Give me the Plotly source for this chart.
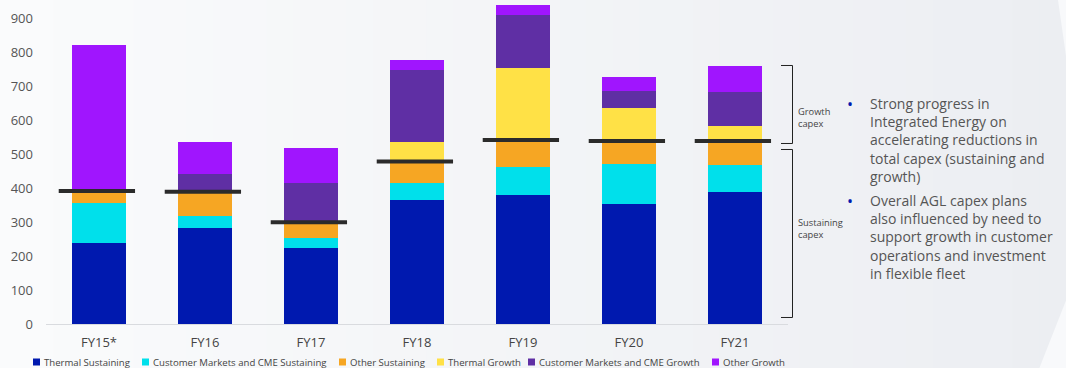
import plotly.graph_objects as go

# ---------------- data ----------------
categories = ["FY15*", "FY16", "FY17", "FY18", "FY19", "FY20", "FY21"]
thermal_sustaining = [239, 283, 224, 365, 379, 353, 387]
cme_sustaining = [118, 36, 30, 50, 83, 117, 82]
other_sustaining = [34, 70, 45, 63, 79, 68, 69]
thermal_growth = [0, 0, 0, 56, 212, 98, 43]
cme_growth = [0, 51, 116, 212, 157, 48, 100]
other_growth = [430, 95, 103, 30, 27, 43, 78]
sustaining_total = [391, 389, 299, 478, 541, 538, 538]
y_ticks = [0, 100, 200, 300, 400, 500, 600, 700, 800, 900]

series_names = ["Thermal Sustaining", "Customer Markets and CME Sustaining", "Other Sustaining",
                "Thermal Growth", "Customer Markets and CME Growth", "Other Growth"]
series_values = [thermal_sustaining, cme_sustaining, other_sustaining,
                 thermal_growth, cme_growth, other_growth]
series_colors = ["#0019AF", "#00E0EB", "#F6A623", "#FFE146", "#5F2FA4", "#A015FE"]

bullet_1 = ["Strong progress in", "Integrated Energy on", "accelerating reductions in",
            "total capex (sustaining and", "growth)"]
bullet_2 = ["Overall AGL capex plans", "also influenced by need to", "support growth in customer",
            "operations and investment", "in flexible fleet"]

# ---------------- layout helpers ----------------
W, H = 1066, 368
L, R, T, B = 46, 788, 1, 324


def fx(px):
    return (px - L) / (R - L)


def fy(py):
    return (B - py) / (B - T)


FONT = "Open Sans"
x_idx = list(range(len(categories)))

fig = go.Figure()
for name, vals, col in zip(series_names, series_values, series_colors):
    fig.add_trace(go.Bar(
        x=x_idx, y=vals, name=name, marker=dict(color=col, line=dict(width=0)),
        width=0.51, showlegend=False,
        hovertemplate="%{text}<br>" + name + ": %{y}<extra></extra>", text=categories,
        textposition="none",
    ))

# sustaining capex marker lines
lx, ly = [], []
for i, v in zip(x_idx, sustaining_total):
    lx += [i - 0.38, i + 0.34, None]
    ly += [v, v, None]
fig.add_trace(go.Scatter(x=lx, y=ly, mode="lines", line=dict(color="#2B2B2B", width=4),
                         showlegend=False, hoverinfo="skip"))

shapes = []
# background gradient bands
c0 = (250, 251, 252)
c1 = (236, 238, 242)
n = 40
for k in range(n):
    a = W * k / n
    b = W * (k + 1) / n + 1
    t = k / (n - 1)
    c = tuple(round(c0[j] + (c1[j] - c0[j]) * t) for j in range(3))
    shapes.append(dict(type="rect", xref="paper", yref="paper", x0=fx(a), x1=fx(b),
                       y0=fy(H), y1=fy(0), fillcolor="rgb(%d,%d,%d)" % c,
                       line=dict(width=0), layer="below"))
# chevron corners
light = "#F8F9FB"
shapes.append(dict(type="path", xref="paper", yref="paper", layer="below",
                   path="M %f,%f L %f,%f L %f,%f Z" % (fx(1058), fy(0), fx(1067), fy(0), fx(1067), fy(63)),
                   fillcolor=light, line=dict(width=0)))
shapes.append(dict(type="path", xref="paper", yref="paper", layer="below",
                   path="M %f,%f L %f,%f L %f,%f Z" % (fx(1039), fy(369), fx(1067), fy(369), fx(1067), fy(298)),
                   fillcolor=light, line=dict(width=0)))
# brackets
for top, bot in [(65, 143), (149, 317)]:
    shapes.append(dict(type="path", xref="paper", yref="paper",
                       path="M %f,%f L %f,%f L %f,%f L %f,%f" % (fx(781), fy(top + 0.5), fx(792.5), fy(top + 0.5),
                                                                fx(792.5), fy(bot + 0.5), fx(781), fy(bot + 0.5)),
                       line=dict(color="#222222", width=1)))
# legend keys
legend_px = [33, 142, 339, 437, 528, 712]
annotations = []
for px, name, col in zip(legend_px, series_names, series_colors):
    shapes.append(dict(type="rect", xref="paper", yref="paper", x0=fx(px), x1=fx(px + 7),
                       y0=fy(365.5), y1=fy(358.5), fillcolor=col, line=dict(width=0)))
    annotations.append(dict(x=fx(px + 8.5), y=fy(362), xref="paper", yref="paper", text=name,
                            showarrow=False, xanchor="left", yanchor="middle",
                            font=dict(family=FONT, size=9.6, color="#444444")))

annotations += [
    dict(x=fx(796), y=fy(118), xref="paper", yref="paper", text="Growth<br>capex", showarrow=False,
         xanchor="left", yanchor="middle", align="left", font=dict(family=FONT, size=9.3, color="#444444")),
    dict(x=fx(796), y=fy(228), xref="paper", yref="paper", text="Sustaining<br>capex", showarrow=False,
         xanchor="left", yanchor="middle", align="left", font=dict(family=FONT, size=9.3, color="#444444")),
]

# bullet points
for first_y, center_y, lines in [(105, 140.3, bullet_1), (201.7, 237, bullet_2)]:
    annotations.append(dict(x=fx(850), y=fy(first_y - 1), xref="paper", yref="paper", text="•",
                            showarrow=False, xanchor="center", yanchor="middle",
                            font=dict(family=FONT, size=16, color="#0019AF")))
    annotations.append(dict(x=fx(868), y=fy(center_y), xref="paper", yref="paper",
                            text="<br>".join(lines), showarrow=False, xanchor="left", yanchor="middle",
                            align="left", font=dict(family=FONT, size=14, color="#555555")))

fig.update_layout(
    width=W, height=H,
    margin=dict(l=L, r=W - R, t=T, b=H - B),
    barmode="stack",
    paper_bgcolor="#F4F5F8",
    plot_bgcolor="rgba(0,0,0,0)",
    font=dict(family=FONT, size=13, color="#444444"),
    shapes=shapes,
    annotations=annotations,
    xaxis=dict(range=[-0.5, 6.5], tickvals=x_idx, ticktext=categories, showgrid=False,
               zeroline=False, showline=True, linecolor="#D9DBDF", linewidth=1,
               ticks="", ticklabelstandoff=6, tickfont=dict(size=13, color="#444444"),
               fixedrange=True),
    yaxis=dict(range=[0, 950], tickvals=y_ticks, showgrid=False, zeroline=False,
               showline=False, ticks="", ticklabelstandoff=12,
               tickfont=dict(size=13, color="#555555"), fixedrange=True),
)

fig.write_html("out.html", config={"displayModeBar": False},
               post_script="document.body.style.margin='0';document.body.style.overflow='hidden';")
